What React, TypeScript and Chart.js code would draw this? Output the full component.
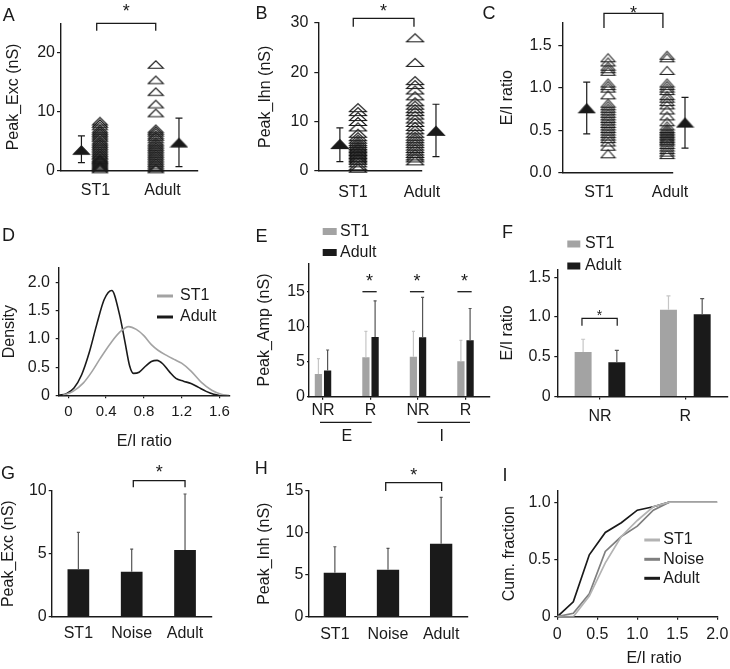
import React, { useEffect, useRef } from "react";
import { Chart, registerables } from "chart.js";

Chart.register(...registerables);

// ---------------- data ----------------
const abGroups = ["ST1", "Adult"];

const excST1 = [8.4, 8.0, 7.6, 7.1, 6.8, 6.5, 6.2, 5.9, 5.6, 5.2, 4.9, 4.6, 4.3, 4.0, 3.7, 3.4, 3.1, 2.8, 2.6, 2.3, 2.1, 1.9, 1.7, 1.5, 1.3, 1.1, 0.9, 0.7, 0.5, 0.3];
const excAdult = [18.0, 15.4, 13.4, 11.3, 9.8, 7.1, 6.8, 6.5, 6.1, 5.8, 5.4, 5.0, 4.7, 4.4, 4.1, 3.8, 3.5, 3.2, 2.9, 2.6, 2.3, 2.0, 1.7, 1.4, 1.1, 0.8, 0.5, 0.3];
const excMean = [3.5, 4.75];
const excLo = [1.36, 0.68];
const excHi = [5.9, 8.9];

const inhST1 = [12.8, 12.0, 11.0, 10.0, 8.9, 7.6, 6.9, 6.4, 5.9, 5.5, 5.1, 4.8, 4.5, 4.2, 3.9, 3.6, 3.3, 3.0, 2.7, 2.4, 2.1, 1.6, 1.0, 0.5];
const inhAdult = [27.0, 22.0, 18.3, 17.5, 16.4, 15.2, 14.0, 13.3, 12.6, 12.0, 11.3, 10.5, 9.8, 9.0, 8.3, 7.6, 7.0, 6.5, 6.0, 5.5, 5.0, 4.5, 4.0, 3.5, 3.0, 2.6, 2.0];
const inhMean = [5.4, 8.1];
const inhLo = [1.83, 2.85];
const inhHi = [8.7, 13.5];

const ratioST1 = [1.36, 1.31, 1.26, 1.23, 1.2, 1.06, 1.03, 1.0, 0.92, 0.82, 0.79, 0.76, 0.73, 0.7, 0.67, 0.64, 0.61, 0.58, 0.55, 0.52, 0.49, 0.46, 0.43, 0.4, 0.36, 0.31, 0.22];
const ratioAdult = [1.39, 1.36, 1.21, 1.06, 1.03, 1.0, 0.97, 0.91, 0.88, 0.84, 0.8, 0.74, 0.67, 0.6, 0.55, 0.52, 0.5, 0.48, 0.46, 0.44, 0.42, 0.4, 0.38, 0.36, 0.33, 0.3, 0.27, 0.24, 0.21];
const ratioMean = [0.76, 0.59];
const ratioLo = [0.456, 0.288];
const ratioHi = [1.07, 0.89];

const densST1X = [-0.06, 0.05, 0.16, 0.25, 0.34, 0.45, 0.55, 0.64, 0.72, 0.8, 0.88, 0.95, 1.05, 1.13, 1.2, 1.3, 1.41, 1.52, 1.62, 1.7];
const densST1Y = [0, 0.07, 0.22, 0.42, 0.66, 0.93, 1.13, 1.22, 1.17, 1.06, 0.9, 0.8, 0.7, 0.63, 0.57, 0.43, 0.23, 0.09, 0.02, 0];
const densAdultX = [-0.1, -0.02, 0.06, 0.14, 0.22, 0.3, 0.38, 0.46, 0.54, 0.6, 0.65, 0.69, 0.75, 0.82, 0.88, 0.94, 1.0, 1.07, 1.14, 1.22, 1.3, 1.38, 1.46, 1.54, 1.6];
const densAdultY = [0, 0.03, 0.13, 0.36, 0.75, 1.25, 1.7, 1.86, 1.45, 0.95, 0.52, 0.39, 0.41, 0.52, 0.6, 0.62, 0.56, 0.42, 0.3, 0.25, 0.21, 0.14, 0.07, 0.02, 0];

const eCats = ["NR", "R", "NR", "R"];
const eGroups = ["E", "I"];
const eST1 = [3.24, 5.62, 5.7, 5.05];
const eST1Hi = [5.43, 9.33, 9.33, 8.05];
const eAdult = [3.76, 8.52, 8.48, 8.05];
const eAdultHi = [6.67, 13.7, 14.2, 12.6];

const fCats = ["NR", "R"];
const fST1 = [0.56, 1.09];
const fST1Hi = [0.72, 1.265];
const fAdult = [0.43, 1.035];
const fAdultHi = [0.58, 1.23];

const ghCats = ["ST1", "Noise", "Adult"];
const gExc = [3.76, 3.57, 5.29];
const gExcHi = [6.7, 5.37, 9.74];
const hInh = [5.24, 5.6, 8.69];
const hInhHi = [8.33, 8.13, 14.2];

const cumX = [0, 0.2, 0.4, 0.6, 0.8, 1.0, 1.2, 1.4, 2.0];
const cumST1 = [0, 0.0, 0.18, 0.47, 0.7, 0.84, 0.96, 1.0, 1.0];
const cumNoise = [0, 0.03, 0.2, 0.57, 0.7, 0.79, 0.93, 1.0, 1.0];
const cumAdult = [0, 0.13, 0.54, 0.735, 0.82, 0.93, 0.96, 1.0, 1.0];

// tick values / labels
const ticksA = [0, 10, 20];
const ticksB = [0, 10, 20, 30];
const ticksC = [0, 0.5, 1, 1.5];
const ticksCLab = ["0.0", "0.5", "1.0", "1.5"];
const ticksDY = [0, 0.5, 1, 1.5, 2];
const ticksDYLab = ["0", "0.5", "1.0", "1.5", "2.0"];
const ticksDX = [0, 0.4, 0.8, 1.2, 1.6];
const ticksDXLab = ["0", "0.4", "0.8", "1.2", "1.6"];
const ticksE = [0, 5, 10, 15];
const ticksF = [0, 0.5, 1, 1.5];
const ticksFLab = ["0", "0.5", "1.0", "1.5"];
const ticksG = [0, 5, 10];
const ticksH = [0, 5, 10, 15];
const ticksIY = [0, 0.5, 1];
const ticksIYLab = ["0", "0.5", "1.0"];
const ticksIX = [0, 0.5, 1, 1.5, 2];
const ticksIXLab = ["0", "0.5", "1.0", "1.5", "2.0"];

// ---------------- styling ----------------
const INK = "#1a1a1a";
const GRAY = "#a3a3a3";
const LIGHT = "#c6c6c6";
const DARKW = "#555555";
const FONT = '"Liberation Sans", Arial, Helvetica, sans-serif';
Chart.defaults.font.family = FONT;
Chart.defaults.font.size = 16;
Chart.defaults.color = INK;

function tri(w: number, h: number, filled: boolean) {
  const c = document.createElement("canvas");
  const p = 1.5;
  c.width = Math.ceil(w + 2 * p);
  c.height = Math.ceil(h + 2 * p);
  const g = c.getContext("2d")!;
  const cx = c.width / 2, cy = c.height / 2;
  g.beginPath();
  g.moveTo(cx - w / 2, cy + h / 2);
  g.lineTo(cx, cy - h / 2);
  g.lineTo(cx + w / 2, cy + h / 2);
  g.closePath();
  if (filled) { g.fillStyle = INK; g.fill(); }
  g.lineWidth = 1.1;
  g.strokeStyle = INK;
  g.lineJoin = "miter";
  g.stroke();
  return c;
}

const annot = {
  id: "annot",
  afterDatasetsDraw(chart: any, _a: any, o: any) {
    if (!o || !o.origin) return;
    const ctx = chart.ctx;
    const xs = chart.scales.x, ys = chart.scales.y;
    const [ox, oy] = o.origin;
    const X = (v: number) => xs.getPixelForValue(v);
    const PX = (v: number) => v - ox;
    const PY = (v: number) => v - oy;
    ctx.save();
    for (const eb of o.errorBars || []) {
      const meta = chart.getDatasetMeta(eb.dataset);
      meta.data.forEach((el: any, i: number) => {
        const x = el.x;
        const yTop = ys.getPixelForValue(eb.hi[i]);
        const yBot = eb.lo ? ys.getPixelForValue(eb.lo[i]) : el.y;
        ctx.strokeStyle = eb.color;
        ctx.lineWidth = eb.width;
        ctx.beginPath();
        ctx.moveTo(x, yBot);
        ctx.lineTo(x, yTop);
        ctx.moveTo(x - eb.cap / 2, yTop);
        ctx.lineTo(x + eb.cap / 2, yTop);
        if (eb.lo) {
          ctx.moveTo(x - eb.cap / 2, yBot);
          ctx.lineTo(x + eb.cap / 2, yBot);
        }
        ctx.stroke();
      });
    }
    for (const br of o.brackets || []) {
      const x1 = X(br.x1), x2 = X(br.x2), y = PY(br.y);
      ctx.strokeStyle = INK;
      ctx.lineWidth = br.lw || 1.3;
      ctx.beginPath();
      ctx.moveTo(x1, y + br.drop);
      ctx.lineTo(x1, y);
      ctx.lineTo(x2, y);
      ctx.lineTo(x2, y + br.drop);
      ctx.stroke();
      if (br.starY != null) {
        const s = br.starSize || 18;
        ctx.font = `${s}px ${FONT}`;
        ctx.fillStyle = INK;
        ctx.textAlign = "center";
        ctx.textBaseline = "middle";
        ctx.fillText("*", (x1 + x2) / 2, PY(br.starY) + 0.233 * s);
      }
    }
    for (const ln of o.lines || []) {
      ctx.strokeStyle = INK;
      ctx.lineWidth = ln.lw || 1.3;
      ctx.beginPath();
      ctx.moveTo(X(ln.x1), PY(ln.y));
      ctx.lineTo(X(ln.x2), PY(ln.y));
      ctx.stroke();
    }
    for (const t of o.texts || []) {
      ctx.font = `${t.size || 16}px ${FONT}`;
      ctx.fillStyle = INK;
      ctx.textAlign = "center";
      ctx.textBaseline = "middle";
      const x = t.dx != null ? X(t.dx) : PX(t.x);
      ctx.fillText(t.text, x, PY(t.y));
    }
    for (const it of o.legend || []) {
      if (it.kind === "line") {
        ctx.strokeStyle = it.color;
        ctx.lineWidth = it.lw;
        ctx.beginPath();
        ctx.moveTo(PX(it.x1), PY(it.y));
        ctx.lineTo(PX(it.x2), PY(it.y));
        ctx.stroke();
      } else {
        ctx.fillStyle = it.color;
        ctx.fillRect(PX(it.x1), PY(it.y - it.h / 2), it.x2 - it.x1, it.h);
      }
      ctx.fillStyle = INK;
      ctx.font = `16px ${FONT}`;
      ctx.textAlign = "left";
      ctx.textBaseline = "middle";
      ctx.fillText(it.text, PX(it.tx), PY(it.y));
    }
    ctx.restore();
  },
};
Chart.register(annot);

type Geo = { L: number; T: number; W: number; H: number; l: number; t: number; r: number; b: number };

function yAxis(g: Geo, o: any) {
  const yW = g.l - g.L;
  return {
    type: "linear",
    min: o.min,
    max: o.max,
    afterBuildTicks: (s: any) => { s.ticks = o.ticks.map((v: number) => ({ value: v })); },
    afterFit: (s: any) => { s.width = yW; },
    ticks: { autoSkip: false, padding: o.pad, color: INK, font: { size: 16 }, callback: (_v: any, i: number) => (o.labels ? o.labels[i] : String(o.ticks[i])) },
    grid: { display: true, drawOnChartArea: false, drawTicks: o.tl > 0, tickLength: o.tl, color: INK, lineWidth: 1.2 },
    border: { display: true, color: INK, width: 1.4 },
    title: { display: !!o.title, text: o.title, padding: 0, color: INK, font: { size: 16 } },
  };
}

function xLinear(g: Geo, o: any) {
  const xH = g.T + g.H - g.b;
  return {
    type: "linear",
    min: o.min,
    max: o.max,
    offset: false,
    afterBuildTicks: (s: any) => { s.ticks = o.ticks.map((v: number) => ({ value: v })); },
    afterFit: (s: any) => { s.height = xH; },
    ticks: { autoSkip: false, maxRotation: 0, minRotation: 0, padding: o.pad, color: INK, font: { size: o.size || 16 }, callback: (_v: any, i: number) => o.labels[i] },
    grid: { display: true, offset: false, drawOnChartArea: false, drawTicks: o.tl > 0, tickLength: o.tl, color: INK, lineWidth: 1.2 },
    border: { display: true, color: INK, width: 1.4 },
    title: { display: !!o.title, text: o.title, padding: 0, color: INK, font: { size: 16 } },
  };
}

function xCat(g: Geo, o: any) {
  const xH = g.T + g.H - g.b;
  return {
    type: "category",
    offset: true,
    afterFit: (s: any) => { s.height = xH; },
    ticks: { autoSkip: false, maxRotation: 0, minRotation: 0, padding: o.pad, color: INK, font: { size: 16 } },
    grid: { display: true, offset: false, drawOnChartArea: false, drawTicks: o.tl > 0, tickLength: o.tl, color: INK, lineWidth: 1.2 },
    border: { display: true, color: INK, width: 1.4 },
  };
}

function base(g: Geo, scales: any, annotOpts: any) {
  return {
    responsive: false,
    maintainAspectRatio: false,
    animation: false,
    devicePixelRatio: 1,
    events: [],
    layout: { padding: { left: 0, top: g.t - g.T, right: g.L + g.W - g.r, bottom: 0 } },
    plugins: { legend: { display: false }, tooltip: { enabled: false }, annot: { origin: [g.L, g.T], ...annotOpts } },
    scales,
  };
}

// ---------- panel builders ----------
function scatterPanel(g: Geo, d: any) {
  const open = tri(d.tw, d.th, false);
  const fill = tri(d.mw, d.mh, true);
  const common = { pointRadius: 22, clip: false, showLine: false };
  return {
    type: "scatter",
    data: {
      datasets: [
        { ...common, data: d.s1.map((v: number) => ({ x: d.col[0], y: v })), pointStyle: open },
        { ...common, data: d.s2.map((v: number) => ({ x: d.col[1], y: v })), pointStyle: open },
        { ...common, data: d.mean.map((v: number, i: number) => ({ x: d.mcol[i], y: v })), pointStyle: fill },
      ],
    },
    options: base(g, {
      x: xLinear(g, { min: d.xmin, max: d.xmax, ticks: [1, 2], labels: abGroups, tl: 0, pad: d.xpad }),
      y: yAxis(g, { min: 0, max: d.ymax, ticks: d.yt, labels: d.ytl, tl: 4, pad: d.ypad, title: d.title }),
    }, {
      errorBars: [{ dataset: 2, lo: d.lo, hi: d.hi, cap: 7, color: INK, width: 1.2 }],
      brackets: [d.br],
    }),
  };
}

const gA: Geo = { L: 4, T: 0, W: 226, H: 215, l: 61, t: 23.2, r: 198, b: 170.7 };
const gB: Geo = { L: 256, T: 0, W: 214, H: 215, l: 318.3, t: 22.7, r: 421.7, b: 170.7 };
const gC: Geo = { L: 498, T: 0, W: 232, H: 215, l: 562.3, t: 20.7, r: 673, b: 172.3 };
const gD: Geo = { L: 0, T: 220, W: 245, H: 231, l: 58.7, t: 268, r: 230, b: 395.3 };
const gE: Geo = { L: 255, T: 215, W: 240, H: 235, l: 309, t: 263.3, r: 490, b: 396.7 };
const gF: Geo = { L: 498, T: 215, W: 232, H: 235, l: 557.3, t: 269.3, r: 728, b: 396.5 };
const gG: Geo = { L: -1, T: 440, W: 231, H: 229, l: 51.7, t: 490.7, r: 211.7, b: 616.7 };
const gH: Geo = { L: 255, T: 440, W: 225, H: 229, l: 308.3, t: 490.7, r: 467.7, b: 616.7 };
const gI: Geo = { L: 500, T: 440, W: 250, H: 229, l: 557.3, t: 490.7, r: 717.3, b: 616.7 };

const makeA = () => scatterPanel(gA, {
  s1: excST1, s2: excAdult, mean: excMean, lo: excLo, hi: excHi,
  col: [1.067, 1.9], mcol: [0.79, 2.246], xmin: 0.485, xmax: 2.53, xpad: 10.7,
  ymax: 25, yt: ticksA, ytl: null, ypad: 2, title: "Peak_Exc (nS)",
  tw: 15, th: 7.5, mw: 16, mh: 8.5,
  br: { x1: 1.018, x2: 1.899, y: 23.3, drop: 7.4, starY: 8.3 },
});
const makeB = () => scatterPanel(gB, {
  s1: inhST1, s2: inhAdult, mean: inhMean, lo: inhLo, hi: inhHi,
  col: [1.072, 1.9], mcol: [0.81, 2.203], xmin: 0.497, xmax: 1.996, xpad: 12.2,
  ymax: 30, yt: ticksB, ytl: null, ypad: 6, title: "Peak_Ihn (nS)",
  tw: 17, th: 8, mw: 17, mh: 9,
  br: { x1: 1.004, x2: 1.884, y: 18.3, drop: 8.4, starY: 8 },
});
const makeC = () => scatterPanel(gC, {
  s1: ratioST1, s2: ratioAdult, mean: ratioMean, lo: ratioLo, hi: ratioHi,
  col: [1.127, 1.958], mcol: [0.827, 2.211], xmin: 0.483, xmax: 2.042, xpad: 10.6,
  ymax: 1.773, yt: ticksC, ytl: ticksCLab, ypad: 6.6, title: "E/I ratio",
  tw: 14, th: 8, mw: 16, mh: 9,
  br: { x1: 1.07, x2: 1.9, y: 13.3, drop: 14.7, starY: 9.7 },
});

const makeD = () => ({
  type: "line",
  data: {
    datasets: [
      { data: densST1X.map((x, i) => ({ x, y: densST1Y[i] })), borderColor: GRAY, borderWidth: 1.6, pointRadius: 0, cubicInterpolationMode: "monotone", fill: false },
      { data: densAdultX.map((x, i) => ({ x, y: densAdultY[i] })), borderColor: INK, borderWidth: 1.6, pointRadius: 0, cubicInterpolationMode: "monotone", fill: false },
    ],
  },
  options: base(gD, {
    x: xLinear(gD, { min: -0.102, max: 1.713, ticks: ticksDX, labels: ticksDXLab, tl: 3, pad: 4.4, size: 15, title: "E/I ratio" }),
    y: yAxis(gD, { min: 0, max: 2.26, ticks: ticksDY, labels: ticksDYLab, tl: 3, pad: 5.7, title: "Density" }),
  }, {
    legend: [
      { kind: "line", x1: 157, x2: 173, y: 296, color: GRAY, lw: 3, text: "ST1", tx: 180 },
      { kind: "line", x1: 157, x2: 173, y: 317, color: INK, lw: 3, text: "Adult", tx: 180 },
    ],
  }),
});

const makeE = () => ({
  type: "bar",
  data: {
    datasets: [
      { data: eST1.map((y, i) => ({ x: i + 1, y })), backgroundColor: GRAY, categoryPercentage: 0.387, barPercentage: 0.79 },
      { data: eAdult.map((y, i) => ({ x: i + 1, y })), backgroundColor: INK, categoryPercentage: 0.387, barPercentage: 0.79 },
    ],
  },
  options: base(gE, {
    x: xLinear(gE, { min: 0.705, max: 4.516, ticks: [1, 2, 3, 4], labels: eCats, tl: 3, pad: 1.7 }),
    y: yAxis(gE, { min: 0, max: 19.06, ticks: ticksE, tl: 2, pad: 2, title: "Peak_Amp (nS)" }),
  }, {
    errorBars: [
      { dataset: 0, hi: eST1Hi, cap: 3, color: LIGHT, width: 1.2 },
      { dataset: 1, hi: eAdultHi, cap: 3, color: DARKW, width: 1.2 },
    ],
    brackets: [2, 3, 4].map((gx) => ({ x1: gx - 0.17, x2: gx + 0.13, y: 291.7, drop: 0, starY: 278 })),
    lines: [
      { x1: 0.937, x2: 2.025, y: 422.3, lw: 1.2 },
      { x1: 2.987, x2: 4.095, y: 422.3, lw: 1.2 },
    ],
    texts: [
      { dx: 1.5, y: 436.7, text: eGroups[0] },
      { dx: 3.5, y: 436.7, text: eGroups[1] },
    ],
    legend: [
      { kind: "box", x1: 322.7, x2: 336.7, y: 231.5, h: 7, color: GRAY, text: "ST1", tx: 340 },
      { kind: "box", x1: 322.7, x2: 336.7, y: 252.5, h: 7, color: INK, text: "Adult", tx: 340 },
    ],
  }),
});

const makeF = () => ({
  type: "bar",
  data: {
    labels: fCats,
    datasets: [
      { data: fST1, backgroundColor: GRAY, categoryPercentage: 0.79, barPercentage: 0.503 },
      { data: fAdult, backgroundColor: INK, categoryPercentage: 0.79, barPercentage: 0.503 },
    ],
  },
  options: base(gF, {
    x: xCat(gF, { tl: 3, pad: 7.9 }),
    y: yAxis(gF, { min: 0, max: 1.6, ticks: ticksF, labels: ticksFLab, tl: 3, pad: 3.6, title: "E/I ratio" }),
  }, {
    errorBars: [
      { dataset: 0, hi: fST1Hi, cap: 4, color: LIGHT, width: 1.2 },
      { dataset: 1, hi: fAdultHi, cap: 4, color: DARKW, width: 1.2 },
    ],
    brackets: [{ x1: -0.211, x2: 0.202, y: 318.3, drop: 7.4, starY: 313.3, starSize: 14, lw: 1.2 }],
    legend: [
      { kind: "box", x1: 567.3, x2: 580.3, y: 244, h: 7, color: GRAY, text: "ST1", tx: 585 },
      { kind: "box", x1: 567.3, x2: 580.3, y: 266, h: 7, color: INK, text: "Adult", tx: 585 },
    ],
  }),
});

function ghPanel(g: Geo, vals: number[], hi: number[], d: any) {
  return {
    type: "bar",
    data: {
      labels: ghCats,
      datasets: [{ data: vals, backgroundColor: INK, categoryPercentage: 1, barPercentage: d.bp }],
    },
    options: base(g, {
      x: xCat(g, { tl: 0, pad: d.xpad }),
      y: yAxis(g, { min: 0, max: d.ymax, ticks: d.yt, tl: 3, pad: 2, title: d.title }),
    }, {
      errorBars: [{ dataset: 0, hi, cap: 3, color: DARKW, width: 1.2 }],
      brackets: [d.br],
    }),
  };
}
const makeG = () => ghPanel(gG, gExc, gExcHi, {
  bp: 0.407, xpad: 7.7, ymax: 10, yt: ticksG, title: "Peak_Exc (nS)",
  br: { x1: 1.03, x2: 2.0, y: 480.7, drop: 6.6, starY: 469.3 },
});
const makeH = () => ghPanel(gH, hInh, hInhHi, {
  bp: 0.42, xpad: 8.7, ymax: 15, yt: ticksH, title: "Peak_Inh (nS)",
  br: { x1: 0.957, x2: 2.01, y: 482.7, drop: 8.3, starY: 471.5 },
});

const I_ST1 = "#b3b3b3";
const I_NOISE = "#7f7f7f";
const makeI = () => ({
  type: "line",
  data: {
    datasets: [
      { data: cumX.map((x, i) => ({ x, y: cumST1[i] })), borderColor: I_ST1, borderWidth: 1.7, pointRadius: 0, tension: 0 },
      { data: cumX.map((x, i) => ({ x, y: cumNoise[i] })), borderColor: I_NOISE, borderWidth: 1.7, pointRadius: 0, tension: 0 },
      { data: cumX.map((x, i) => ({ x, y: cumAdult[i] })), borderColor: INK, borderWidth: 1.7, pointRadius: 0, tension: 0 },
    ],
  },
  options: base(gI, {
    x: xLinear(gI, { min: 0, max: 2, ticks: ticksIX, labels: ticksIXLab, tl: 3, pad: 5.7 }),
    y: yAxis(gI, { min: 0, max: 1.1, ticks: ticksIY, labels: ticksIYLab, tl: 3, pad: 3.6, title: "Cum. fraction" }),
  }, {
    texts: [{ x: 654, y: 658.5, text: "E/I ratio" }],
    legend: [
      { kind: "line", x1: 644.3, x2: 660, y: 540, color: I_ST1, lw: 3, text: "ST1", tx: 663.3 },
      { kind: "line", x1: 644.3, x2: 660, y: 559.3, color: I_NOISE, lw: 3, text: "Noise", tx: 663.3 },
      { kind: "line", x1: 644.3, x2: 660, y: 578.3, color: INK, lw: 3, text: "Adult", tx: 663.3 },
    ],
  }),
});

const panels: { g: Geo; make: () => any }[] = [
  { g: gA, make: makeA }, { g: gB, make: makeB }, { g: gC, make: makeC },
  { g: gD, make: makeD }, { g: gE, make: makeE }, { g: gF, make: makeF },
  { g: gG, make: makeG }, { g: gH, make: makeH }, { g: gI, make: makeI },
];

const letters: [string, number, number][] = [
  ["A", 2.7, 8.3], ["B", 255.5, 6.7], ["C", 482.5, 6.7],
  ["D", 2, 228.3], ["E", 255.5, 229.3], ["F", 502, 225],
  ["G", 1, 466], ["H", 254.8, 461.7], ["I", 502.5, 468.3],
];

function Panel({ g, make }: { g: Geo; make: () => any }) {
  const ref = useRef<HTMLCanvasElement>(null);
  useEffect(() => {
    const chart = new Chart(ref.current as HTMLCanvasElement, make());
    return () => chart.destroy();
  }, []);
  return (
    <canvas
      ref={ref}
      width={g.W}
      height={g.H}
      style={{ position: "absolute", left: g.L, top: g.T, width: g.W, height: g.H }}
    />
  );
}

export default function App() {
  return (
    <div style={{ position: "fixed", left: 0, top: 0, width: 730, height: 669, background: "#fff", overflow: "hidden", fontFamily: FONT }}>
      {panels.map((p, i) => (
        <Panel key={i} g={p.g} make={p.make} />
      ))}
      {letters.map(([t, x, y]) => (
        <div key={t} style={{ position: "absolute", left: x, top: y - 2.3, fontSize: 18, lineHeight: "18px", color: INK }}>
          {t}
        </div>
      ))}
    </div>
  );
}
